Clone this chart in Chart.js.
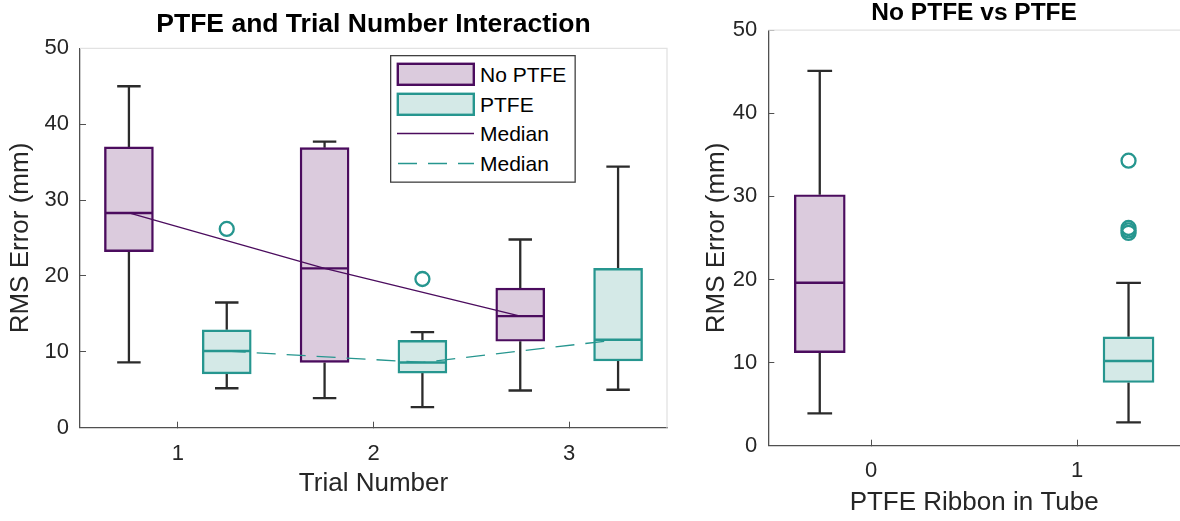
<!DOCTYPE html>
<html>
<head>
<meta charset="utf-8">
<title>RMS Error - PTFE</title>
<script src="https://cdn.jsdelivr.net/npm/chart.js@4"></script>
<style>
    html, body { margin: 0; padding: 0; background: #fff; }
    body { position: relative; width: 1180px; height: 521px; overflow: hidden; font-family: "Liberation Sans", Arial, sans-serif; }
    #interacao-wrap { position: absolute; left: 0; top: 0; width: 668px; height: 521px; }
    #comparacao-wrap { position: absolute; left: 690px; top: 0; width: 490px; height: 521px; }
    #legenda { position: absolute; left: 390px; top: 55px; }
</style>
</head>
<body>
<div id="interacao-wrap"><canvas id="interacao-chart"></canvas></div>
<div id="comparacao-wrap"><canvas id="comparacao-chart"></canvas></div>

<svg id="legenda" width="186" height="128" font-family="Liberation Sans, Arial, sans-serif" font-size="21">
    <rect x="0.65" y="0.65" width="184.5" height="126.5" fill="#fff" stroke="#404040" stroke-width="1.3"/>
    <rect x="7.8" y="8.8" width="76" height="21" fill="#dbcbdd" stroke="#4b0c5e" stroke-width="2.4"/>
    <text x="90" y="27">No PTFE</text>
    <rect x="7.8" y="38.8" width="76" height="21" fill="#d4e9e7" stroke="#26968f" stroke-width="2.4"/>
    <text x="90" y="57">PTFE</text>
    <line x1="7" y1="78.5" x2="84" y2="78.5" stroke="#4b0c5e" stroke-width="1.3"/>
    <text x="90" y="86">Median</text>
    <line x1="8" y1="108.5" x2="84" y2="108.5" stroke="#26968f" stroke-width="1.3" stroke-dasharray="19 11"/>
    <text x="90" y="116">Median</text>
</svg>

<script>
// ---- dados ----
const trialTicks = [1, 2, 3];
const groupTicks = [0, 1];
const yTicks = [0, 10, 20, 30, 40, 50];

// Sem PTFE, por tentativa: bigode inferior, Q1, mediana, Q3, bigode superior
const noPtfeLow  = [8.6, 3.9, 4.9];
const noPtfeQ1   = [23.2, 8.6, 11.4];
const noPtfeMed  = [28.3, 21.0, 14.7];
const noPtfeQ3   = [37.0, 36.9, 18.4];
const noPtfeHigh = [45.0, 37.7, 24.8];

// Com PTFE, por tentativa
const ptfeLow  = [5.2, 2.7, 5.0];
const ptfeQ1   = [7.1, 7.2, 8.8];
const ptfeMed  = [10.1, 8.6, 11.6];
const ptfeQ3   = [12.9, 11.5, 21.0];
const ptfeHigh = [16.5, 12.6, 34.4];
const ptfeOutlierTrial = [1, 2];
const ptfeOutlierValue = [26.2, 19.6];

// Todas as tentativas juntas: [inferior, Q1, mediana, Q3, superior]
const allNoPtfe = [3.9, 11.2, 19.6, 30.2, 45.1];
const allPtfe   = [2.8, 7.6, 10.2, 13.1, 19.6];
const allPtfeOutliers = [34.3, 26.2, 25.9, 25.6];

// ---- estilo ----
const FONT = '"Liberation Sans", Arial, sans-serif';
const TEXT = '#262626';
const AXIS = '#505050';
const PURPLE = '#4b0c5e';
const PURPLE_FILL = '#dbcbdd';
const TEAL = '#26968f';
const TEAL_FILL = '#d4e9e7';
const WHISKER = '#2b2b2b';
const CAP = 0.06;      // meia largura da barra do bigode (unidades do eixo x)
const HALF_BOX = 0.12; // meia largura da linha de mediana dentro da caixa

// Linhas cinza claro no topo (e opcionalmente à direita) da área do gráfico
const frameEdges = {
    id: 'frameEdges',
    beforeDatasetsDraw(chart, args, opts) {
        const { ctx, chartArea: a } = chart;
        ctx.save();
        ctx.strokeStyle = '#e2e2e2';
        ctx.lineWidth = 1.3;
        ctx.beginPath();
        ctx.moveTo(a.left, a.top);
        ctx.lineTo(a.right, a.top);
        if (opts.right) {
            ctx.lineTo(a.right, a.bottom);
        }
        ctx.stroke();
        ctx.restore();
    }
};

// Segmentos verticais e barras dos bigodes (null separa os segmentos)
function whiskerPoints(xs, low, q1, q3, high) {
    const pts = [];
    xs.forEach((x, i) => {
        pts.push({ x, y: low[i] }, { x, y: q1[i] }, { x, y: null });
        pts.push({ x, y: q3[i] }, { x, y: high[i] }, { x, y: null });
        pts.push({ x: x - CAP, y: low[i] }, { x: x + CAP, y: low[i] }, { x, y: null });
        pts.push({ x: x - CAP, y: high[i] }, { x: x + CAP, y: high[i] }, { x, y: null });
    });
    return pts;
}

function medianPoints(xs, med) {
    const pts = [];
    xs.forEach((x, i) => {
        pts.push({ x: x - HALF_BOX, y: med[i] }, { x: x + HALF_BOX, y: med[i] }, { x, y: null });
    });
    return pts;
}

function boxData(xs, q1, q3) {
    return xs.map((x, i) => ({ x, y: [q1[i], q3[i]] }));
}

function boxDataset(label, xs, q1, q3, fill, edge, thickness) {
    return {
        type: 'bar', label, order: 3, grouped: false,
        data: boxData(xs, q1, q3),
        backgroundColor: fill, borderColor: edge, borderWidth: 2.4,
        borderSkipped: false, barThickness: thickness
    };
}

function segmentDataset(label, data, color, width, order) {
    return {
        type: 'line', label, order, data,
        borderColor: color, borderWidth: width, pointRadius: 0,
        spanGaps: false, tension: 0, fill: false
    };
}

function outlierDataset(xs, ys) {
    return {
        type: 'scatter', label: 'Outliers', order: 1,
        data: ys.map((y, i) => ({ x: xs[i], y })),
        pointStyle: 'circle', pointRadius: 7, borderWidth: 2.3,
        borderColor: TEAL, backgroundColor: 'rgba(0,0,0,0)', showLine: false
    };
}

function buildScales(xMin, xMax, xTicks, xTitle, yWidth, xHeight, yTitlePad, xTitlePad, xTickPad) {
    return {
        x: {
            type: 'linear', min: xMin, max: xMax, offset: false,
            afterBuildTicks: s => { s.ticks = xTicks.map(v => ({ value: v })); },
            afterFit: s => { s.height = xHeight; },
            grid: { offset: false, drawOnChartArea: false, drawTicks: true, tickLength: -6, color: AXIS, lineWidth: 1 },
            border: { display: true, color: AXIS, width: 1.3 },
            ticks: { padding: xTickPad, color: TEXT, maxRotation: 0, font: { family: FONT, size: 22 } },
            title: { display: true, text: xTitle, color: TEXT, font: { family: FONT, size: 26 }, padding: { top: 0, bottom: xTitlePad } }
        },
        y: {
            type: 'linear', min: 0, max: 50,
            afterBuildTicks: s => { s.ticks = yTicks.map(v => ({ value: v })); },
            afterFit: s => { s.width = yWidth; },
            grid: { drawOnChartArea: false, drawTicks: true, tickLength: -6, color: AXIS, lineWidth: 1 },
            border: { display: true, color: AXIS, width: 1.3 },
            ticks: { padding: 17, color: TEXT, font: { family: FONT, size: 22 } },
            title: { display: true, text: 'RMS Error (mm)', color: TEXT, font: { family: FONT, size: 26 }, padding: { top: yTitlePad, bottom: 0 } }
        }
    };
}

function baseOptions(title, titleFont, titlePad, scales, rightEdge) {
    return {
        responsive: true,
        maintainAspectRatio: false,
        animation: false,
        events: [],
        layout: { padding: { left: 0, top: 0, bottom: 0, right: rightEdge ? 1 : 0 }, autoPadding: false },
        plugins: {
            legend: { display: false },
            tooltip: { enabled: false },
            frameEdges: { right: rightEdge },
            title: {
                display: true, text: title, color: '#000', fullSize: false,
                font: Object.assign({ family: FONT, weight: 'bold' }, titleFont),
                padding: titlePad
            }
        },
        scales
    };
}

// Gráfico da interação PTFE x número da tentativa
function renderInteracaoChart() {
    const noX = trialTicks.map(t => t - 0.25);
    const ptX = trialTicks.map(t => t + 0.25);

    new Chart(document.getElementById('interacao-chart'), {
        type: 'bar',
        data: {
            datasets: [
                segmentDataset('Median', noX.map((x, i) => ({ x, y: noPtfeMed[i] })), PURPLE, 1.3, 0),
                Object.assign(segmentDataset('Median', ptX.map((x, i) => ({ x, y: ptfeMed[i] })), TEAL, 1.3, 0), { borderDash: [19, 11] }),
                outlierDataset(ptfeOutlierTrial.map(t => t + 0.25), ptfeOutlierValue),
                segmentDataset('No PTFE median', medianPoints(noX, noPtfeMed), PURPLE, 2.4, 2),
                segmentDataset('PTFE median', medianPoints(ptX, ptfeMed), TEAL, 2.4, 2),
                boxDataset('No PTFE', noX, noPtfeQ1, noPtfeQ3, PURPLE_FILL, PURPLE, 49),
                boxDataset('PTFE', ptX, ptfeQ1, ptfeQ3, TEAL_FILL, TEAL, 49),
                segmentDataset('whiskers', whiskerPoints(noX, noPtfeLow, noPtfeQ1, noPtfeQ3, noPtfeHigh), WHISKER, 2.3, 4),
                segmentDataset('whiskers', whiskerPoints(ptX, ptfeLow, ptfeQ1, ptfeQ3, ptfeHigh), WHISKER, 2.3, 4)
            ]
        },
        options: baseOptions('PTFE and Trial Number Interaction', { size: 26.5 }, { top: 9, bottom: 7.5 },
            buildScales(0.5, 3.5, trialTicks, 'Trial Number', 80, 93.3, 5, 22, 19), true),
        plugins: [frameEdges]
    });
}

// Gráfico sem PTFE vs com PTFE (todas as tentativas)
function renderComparacaoChart() {
    const noX = [groupTicks[0] - 0.25];
    const ptX = [groupTicks[1] + 0.25];
    const pick = (arr, k) => [arr[k]];

    new Chart(document.getElementById('comparacao-chart'), {
        type: 'bar',
        data: {
            datasets: [
                outlierDataset(allPtfeOutliers.map(() => ptX[0]), allPtfeOutliers),
                segmentDataset('No PTFE median', medianPoints(noX, pick(allNoPtfe, 2)), PURPLE, 2.4, 2),
                segmentDataset('PTFE median', medianPoints(ptX, pick(allPtfe, 2)), TEAL, 2.4, 2),
                boxDataset('No PTFE', noX, pick(allNoPtfe, 1), pick(allNoPtfe, 3), PURPLE_FILL, PURPLE, 51),
                boxDataset('PTFE', ptX, pick(allPtfe, 1), pick(allPtfe, 3), TEAL_FILL, TEAL, 51),
                segmentDataset('whiskers', whiskerPoints(noX, pick(allNoPtfe, 0), pick(allNoPtfe, 1), pick(allNoPtfe, 3), pick(allNoPtfe, 4)), WHISKER, 2.3, 4),
                segmentDataset('whiskers', whiskerPoints(ptX, pick(allPtfe, 0), pick(allPtfe, 1), pick(allPtfe, 3), pick(allPtfe, 4)), WHISKER, 2.3, 4)
            ]
        },
        options: baseOptions('No PTFE vs PTFE', { size: 24.5, lineHeight: 1.1 }, { top: 0, bottom: 3 },
            buildScales(-0.5, 1.5, groupTicks, 'PTFE Ribbon in Tube', 78.3, 75.3, 11.5, 3, 18), false),
        plugins: [frameEdges]
    });
}

renderInteracaoChart();
renderComparacaoChart();
</script>
</body>
</html>
